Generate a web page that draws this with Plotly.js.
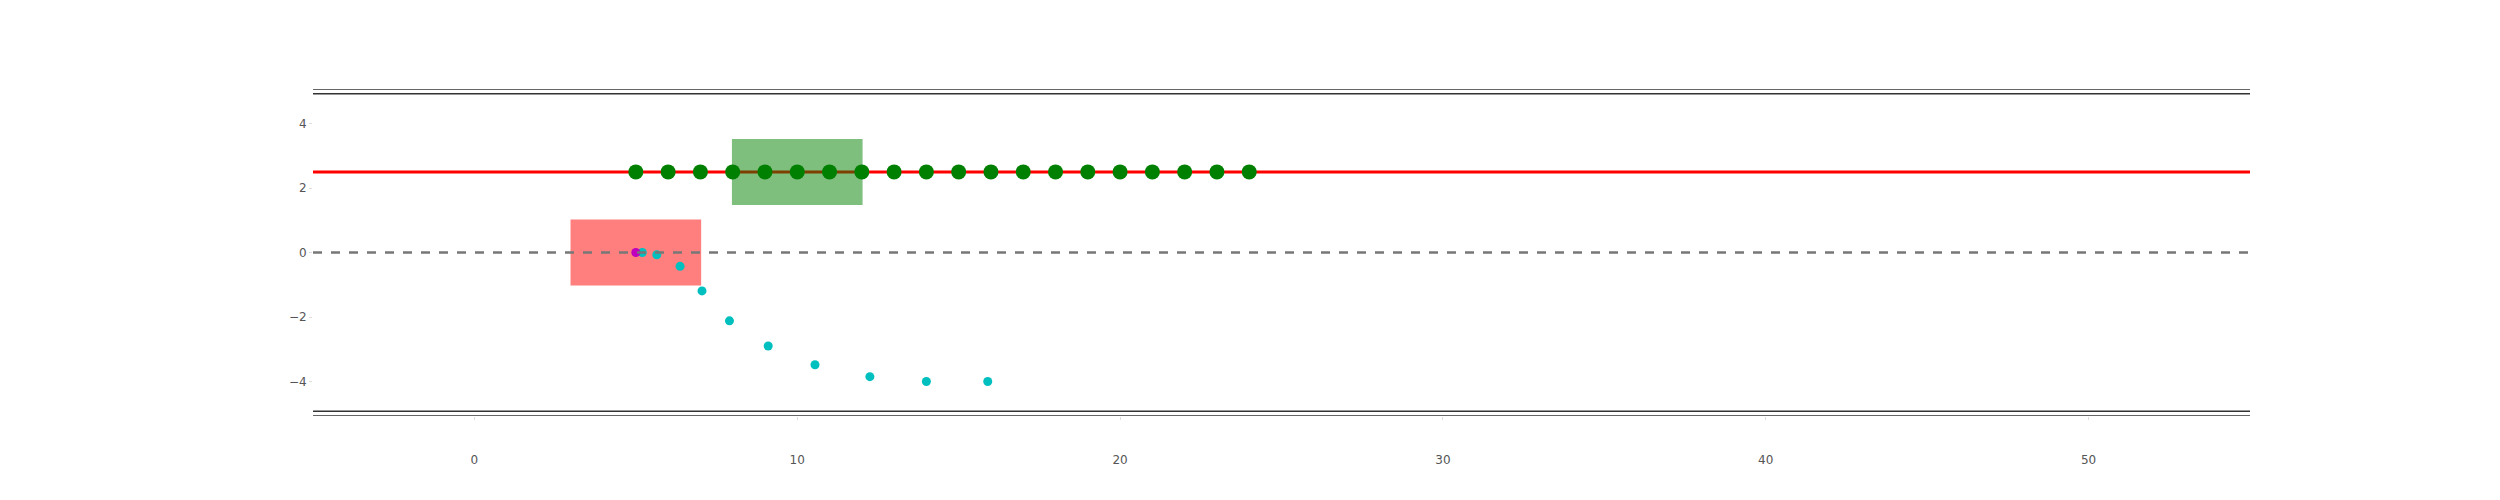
<html><head><script src="https://cdn.plot.ly/plotly-3.0.1.min.js"></script></head>
<body style="margin:0;background:#fff"><div id="grafico" style="width:2500px;height:500px"></div>
<script>
// values
var greenX = [5,6,7,8,9,10,11,12,13,14,15,16,17,18,19,20,21,22,23,24];
var greenY = greenX.map(function(){ return 2.5; });
var cyanX = [5.2,5.65,6.37,7.05,7.9,9.1,10.55,12.25,14.0,15.9];
var cyanY = [0,-0.07,-0.43,-1.19,-2.12,-2.9,-3.48,-3.85,-4.0,-4.0];
var magX = [5], magY = [0];
var redLevel = 2.5, zeroLevel = 0;
var redBox = [3,7,-1,1], greenBox = [8,12,1.5,3.5];

var data = [
  {x: greenX, y: greenY, mode: "markers", type: "scatter", marker: {color: "green", size: 15}},
  {x: cyanX, y: cyanY, mode: "markers", type: "scatter", marker: {color: "#00bfbf", size: 9}},
  {x: magX, y: magY, mode: "markers", type: "scatter", marker: {color: "#bf00bf", size: 9}}
];

function hline(y, color, w, dash, layer){
  return {type: "line", xref: "paper", x0: 0, x1: 1, y0: y, y1: y, layer: layer || "above",
          line: {color: color, width: w, dash: dash || "solid"}};
}
function box(b, color){
  return {type: "rect", x0: b[0], x1: b[1], y0: b[2], y1: b[3], layer: "below",
          fillcolor: color, opacity: 0.5, line: {color: color, width: 1.5}};
}

var layout = {
  showlegend: false,
  margin: {l: 313, r: 250, t: 89, b: 84},
  plot_bgcolor: "#fff", paper_bgcolor: "#fff",
  font: {family: "DejaVu Sans", size: 12, color: "#555"},
  xaxis: {range: [-5, 55], tickvals: [0,10,20,30,40,50], showgrid: false, zeroline: false,
          ticks: "outside", ticklen: 3, tickcolor: "#ddd", showline: false, ticklabelstandoff: 30},
  yaxis: {range: [-5.07, 5.07], tickvals: [-4,-2,0,2,4], showgrid: false, zeroline: false,
          ticks: "outside", ticklen: 3, tickcolor: "#ddd", showline: false},
  shapes: [
    box(redBox, "red"), box(greenBox, "green"),
    hline(redLevel, "red", 3, "solid", "below"),
    {type: "line", xref: "paper", x0: 0, x1: 1, y0: zeroLevel, y1: zeroLevel, layer: "above",
     line: {color: "#777", width: 2.5, dash: "dash"}},
    hline(5.07, "#333", 1.5), hline(4.92, "#333", 1.5),
    hline(-5.07, "#333", 1.5), hline(-4.92, "#333", 1.5)
  ]
};
Plotly.newPlot("grafico", data, layout, {staticPlot: true});
</script></body></html>
